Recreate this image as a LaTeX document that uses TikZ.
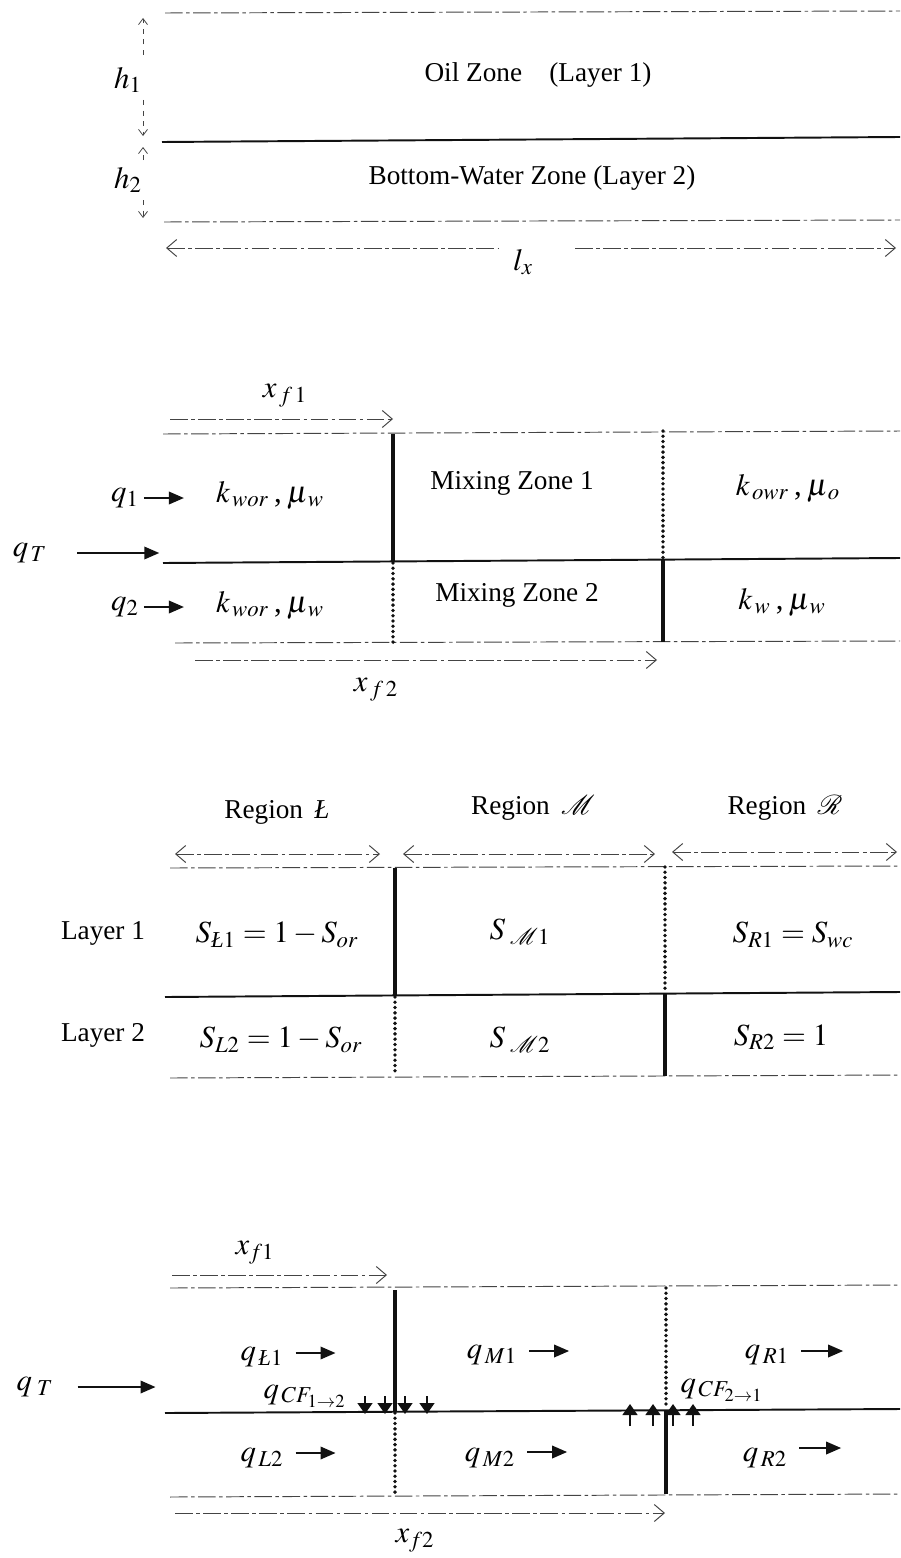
\documentclass[tikz,border=0pt]{standalone}
\usepackage{amsmath}
\usepackage{mathptmx}
\usepackage{fontspec}
\setmainfont{Liberation Serif}
\usetikzlibrary{arrows.meta,positioning,calc}
\definecolor{ink}{HTML}{111111}
\definecolor{faint}{HTML}{444444}
\newcommand{\Lbar}{\text{\itshape Ł}}

\begin{document}
\begin{tikzpicture}[
  x=0.02cm,y=-0.02cm,
  font=\fontsize{15.5}{18}\selectfont,
  mth/.style={font=\fontsize{17.5}{20}\selectfont},
  bed/.style={draw=faint,line width=0.55pt,dash pattern=on 10pt off 2pt on 2pt off 2pt},
  iface/.style={draw=ink,line width=1.1pt},
  front/.style={draw=ink,line width=2pt},
  dotfront/.style={draw=ink,line width=2.2pt,line cap=round,dash pattern=on 0pt off 3pt},
  dimr/.style={bed,-{Straight Barb[length=2mm,width=3.4mm]}},
  diml/.style={bed,{Straight Barb[length=2mm,width=3.4mm]}-},
  dimb/.style={bed,{Straight Barb[length=2mm,width=3.4mm]}-{Straight Barb[length=2mm,width=3.4mm]}},
  hgt/.style={draw=faint,line width=0.45pt,dashed,-{Straight Barb[length=1.2mm,width=1.8mm]}},
  flow/.style={-{Triangle[length=3mm,width=2.5mm]},ink,line width=1.1pt},
  cfdown/.style={-{Triangle[length=2.2mm,width=3mm]},ink,line width=0.8pt},
  lbl/.style={mth,inner sep=1pt},
]
\useasboundingbox (0,0) rectangle (900,1558);

% --- layered reservoir
\draw[bed] (165,13) -- (900,11);
\draw[iface] (162,142) -- (900,137);
\draw[bed] (164,222) -- (900,220);
\node (oil) at (538,75) {Oil Zone\quad(Layer 1)};
\node (bwz) at (532,178) {Bottom-Water Zone (Layer 2)};
\node[lbl] (h1) at (128,80) {$h_1$};
\node[lbl] (h2) at (128,180) {$h_2$};
\draw[hgt] (143,55) -- (143,18);
\draw[hgt] (143,100) -- (143,136);
\draw[hgt] (143,160) -- (143,147);
\draw[hgt] (143,200) -- (143,218);
\node[lbl] (lx) at (523,262) {$l_x$};
\draw[diml] (166,248) -- (498,248);
\draw[dimr] (575,248) -- (896,248);

% --- fronts and zone properties
\node[lbl] (xf1a) at (285,396) {$x_{\,f\,1}$};
\draw[dimr] (170,419) -- (393,419);
\draw[bed] (163,434) -- (900,431);
\draw[iface] (163,563) -- (900,558);
\draw[bed] (175,643) -- (900,641);
\draw[front] (393,434) -- (393,562);
\draw[dotfront] (393,563) -- (393,643);
\draw[dotfront] (663,431) -- (663,559);
\draw[front] (663,560) -- (663,642);
\draw[dimr] (195,660) -- (657,660);
\node[lbl] (xf2a) at (376,690) {$x_{\,f\,2}$};

\node[lbl] (qTa) at (30,553) {$q_{\,T}$};
\draw[flow] ($(qTa.east)+(28,0)$) -- ++(82,0);
\node[lbl] (q1) at (125,498) {$q_1$};
\draw[flow] ($(q1.east)+(3,0)$) -- ++(40,0);
\node[lbl] (q2) at (125,607) {$q_2$};
\draw[flow] ($(q2.east)+(3,0)$) -- ++(40,0);
\node[mth] (kl1) at (270,495) {$k_{\,wor}$\,,\,$\mu_{\,w}$};
\node[mth] (kl2) at (270,605) {$k_{\,wor}$\,,\,$\mu_{\,w}$};
\node (mz1) at (512,483) {Mixing Zone 1};
\node (mz2) at (517,595) {Mixing Zone 2};
\node[mth] (kr1) at (788,488) {$k_{\,owr}$\,,\,$\mu_{\,o}$};
\node[mth] (kr2) at (782,602) {$k_{\,w}$\,,\,$\mu_{\,w}$};

% --- saturations per region
\node (regL) at (277,812) {Region\, \textit{Ł}};
\node (regM) at (533,808) {Region\, $\mathcal{M}$};
\node (regR) at (785,808) {Region\, $\mathcal{R}$};
\draw[dimb] (175,854) -- (380,854);
\draw[dimb] (403,854) -- (655,854);
\draw[dimb] (672,852) -- (897,852);
\draw[bed] (170,868) -- (900,866);
\draw[iface] (165,997) -- (900,992);
\draw[bed] (170,1078) -- (900,1075);
\draw[front] (395,868) -- (395,996);
\draw[dotfront] (395,997) -- (395,1075);
\draw[dotfront] (665,867) -- (665,992);
\draw[front] (665,993) -- (665,1076);
\node (lay1) at (103,933) {Layer 1};
\node (lay2) at (103,1035) {Layer 2};
\node[mth] (sl1) at (277,935) {$S_{\Lbar 1} = 1 - S_{or}$};
\node[mth] (sl2) at (281,1040) {$S_{L2} = 1 - S_{or}$};
\node[mth] (sm1) at (520,932) {$S_{\;\mathcal{M}1}$};
\node[mth] (sm2) at (520,1040) {$S_{\;\mathcal{M}2}$};
\node[mth] (sr1) at (793,935) {$S_{R1} = S_{wc}$};
\node[mth] (sr2) at (781,1037) {$S_{R2} = 1$};

% --- rates and cross flow
\node[lbl] (xf1b) at (255,1253) {$x_{f1}$};
\draw[dimr] (172,1275) -- (387,1275);
\draw[bed] (170,1288) -- (900,1285);
\draw[iface] (165,1413) -- (900,1409);
\draw[bed] (170,1497) -- (900,1494);
\draw[front] (395,1290) -- (395,1412);
\draw[dotfront] (395,1413) -- (395,1493);
\draw[dotfront] (666,1288) -- (666,1409);
\draw[front] (666,1410) -- (666,1494);
\draw[dimr] (175,1513) -- (665,1513);
\node[lbl] (xf2b) at (415,1541) {$x_{f2}$};

\node[lbl] (qTb) at (35,1387) {$q_{\;T}$};
\draw[flow] ($(qTb.east)+(22,0)$) -- ++(78,0);
\node[lbl] (qL1) at (262,1357) {$q_{\,\Lbar 1}$};
\draw[flow] ($(qL1.east)+(10,-4)$) -- ++(40,0);
\node[lbl] (qL2) at (262,1458) {$q_{\,L2}$};
\draw[flow] ($(qL2.east)+(10,-5)$) -- ++(40,0);
\node[lbl] (qM1) at (492,1355) {$q_{\,M1}$};
\draw[flow] ($(qM1.east)+(10,-4)$) -- ++(40,0);
\node[lbl] (qM2) at (490,1458) {$q_{\,M2}$};
\draw[flow] ($(qM2.east)+(10,-6)$) -- ++(40,0);
\node[lbl] (qR1) at (767,1355) {$q_{\,R1}$};
\draw[flow] ($(qR1.east)+(10,-4)$) -- ++(42,0);
\node[lbl] (qR2) at (765,1458) {$q_{\,R2}$};
\draw[flow] ($(qR2.east)+(10,-10)$) -- ++(42,0);

\node[lbl] (cf12) at (305,1396) {$q_{\,CF_{1\to 2}}$};
\foreach \x in {365,385,405,427}
  \draw[cfdown] (\x,1396) -- (\x,1414);
\node[lbl] (cf21) at (722,1390) {$q_{\,CF_{2\to 1}}$};
\foreach \x in {630,653,673,693}
  \draw[cfdown] (\x,1426) -- (\x,1404);
\end{tikzpicture}
\end{document}
